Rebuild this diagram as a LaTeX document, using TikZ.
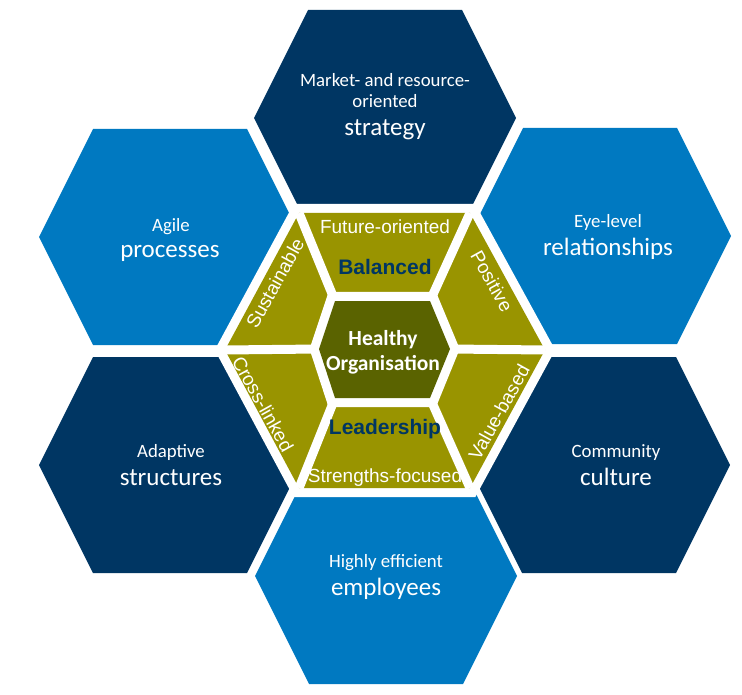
\documentclass[tikz,border=0pt]{standalone}
\usepackage{fontspec}
\setmainfont{Carlito}
\newfontfamily\arialfont{Liberation Sans}
\definecolor{hexnavy}{RGB}{0,54,99}
\definecolor{hexblue}{RGB}{0,121,193}
\definecolor{ringolive}{RGB}{153,148,0}
\definecolor{coreolive}{RGB}{90,99,0}

\begin{document}
\begin{tikzpicture}[x=1pt,y=-1pt]
	\tikzset{small text/.style={text=white, font=\fontsize{18.8}{20}\selectfont, anchor=base},
		big text/.style={text=white, font=\fontsize{25}{26}\selectfont, anchor=base},
		core text/.style={text=white, font=\bfseries\fontsize{21.5}{23}\selectfont, anchor=base},
		ring text/.style={text=white, font=\arialfont\fontsize{19}{21}\selectfont},
		ring title/.style={text=hexnavy, font=\arialfont\bfseries\fontsize{21}{23}\selectfont, anchor=base}}
	\useasboundingbox (0,0) rectangle (742,695);

	% outer hexagons
	\foreach \cx/\cy/\col in {385/118/hexnavy, 170/237/hexblue, 600/236/hexblue, 170/465/hexnavy, 599/465/hexnavy, 386/576/hexblue}
		\fill[\col] (\cx-131,\cy) -- (\cx-77,\cy-108) -- (\cx+77,\cy-108) -- (\cx+131,\cy) -- (\cx+77,\cy+108) -- (\cx-77,\cy+108) -- cycle;

	% ring and core corners
	\coordinate (r1) at (299,213);
	\coordinate (r2) at (470,213);
	\coordinate (r3) at (545,350);
	\coordinate (r4) at (470,488);
	\coordinate (r5) at (299,488);
	\coordinate (r6) at (225,350);
	\coordinate (c1) at (335,301);
	\coordinate (c2) at (430,301);
	\coordinate (c3) at (450,349);
	\coordinate (c4) at (430,398);
	\coordinate (c5) at (335,398);
	\coordinate (c6) at (319,349);

	\filldraw[white, line width=18pt] (r1) -- (r2) -- (r3) -- (r4) -- (r5) -- (r6) -- cycle;
	\fill[ringolive] (r1) -- (r2) -- (r3) -- (r4) -- (r5) -- (r6) -- cycle;
	\foreach \i in {1,...,6}
		\draw[white, line width=9pt] (r\i) -- (c\i);
	\filldraw[white, line width=18pt] (c1) -- (c2) -- (c3) -- (c4) -- (c5) -- (c6) -- cycle;
	\fill[coreolive] (c1) -- (c2) -- (c3) -- (c4) -- (c5) -- (c6) -- cycle;

	% outer labels
	\node[small text] (strat1) at (385,87) {Market- and resource-};
	\node[small text] (strat2) at (385,108) {oriented};
	\node[big text] (strat3) at (385,136) {strategy};
	\node[small text] (proc1) at (171,232) {Agile};
	\node[big text] (proc2) at (170,258) {processes};
	\node[small text] (rel1) at (608,228) {Eye-level};
	\node[big text] (rel2) at (608,256) {relationships};
	\node[small text] (struc1) at (171,457) {Adaptive};
	\node[big text] (struc2) at (171,485) {structures};
	\node[small text] (cult1) at (616,457) {Community};
	\node[big text] (cult2) at (616,485) {culture};
	\node[small text] (empl1) at (386,567) {Highly efficient};
	\node[big text] (empl2) at (386,595) {employees};

	% ring labels
	\node[ring text, anchor=base] (future) at (385,234) {Future-oriented};
	\node[ring title] (balanced) at (385,275) {Balanced};
	\node[ring title] (leadership) at (385,434) {Leadership};
	\node[ring text, anchor=base] (strengths) at (385,482) {Strengths-focused};
	\node[ring text, rotate=61] (sustainable) at (275,283) {Sustainable};
	\node[ring text, rotate=-61] (positive) at (492,281) {Positive};
	\node[ring text, rotate=-61] (crosslinked) at (263,404) {Cross-linked};
	\node[ring text, rotate=61] (valuebased) at (499,412) {Value-based};

	% core
	\node[core text] (healthy) at (383,345) {Healthy};
	\node[core text] (organisation) at (383,370) {Organisation};
\end{tikzpicture}
\end{document}
